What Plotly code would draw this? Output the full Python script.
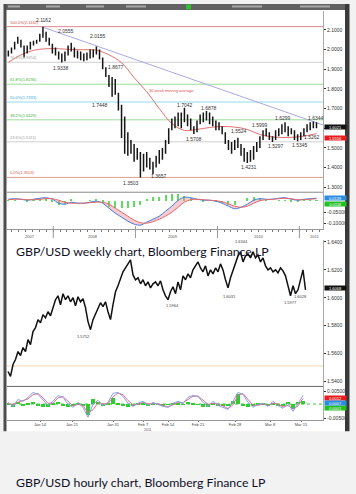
import plotly.graph_objects as go
import pandas as pd

W, H = 356, 494
def px(x): return x / W
def py(y): return 1 - y / H

# ---------------- weekly GBP/USD (bi-weekly sampled bars) ----------------
week_high = [1.995, 2.010, 2.040, 2.065, 2.050, 2.020, 2.020, 2.040, 2.045, 2.050,
             2.080, 2.1162, 2.090, 2.060, 2.030, 2.010, 1.990, 1.980, 1.990, 2.020,
             2.035, 2.010, 1.995, 1.990, 1.980, 1.985, 2.000, 2.000, 2.0155, 2.000,
             1.960, 1.910, 1.870, 1.860, 1.850, 1.780, 1.720, 1.660, 1.580, 1.540,
             1.520, 1.500, 1.480, 1.470, 1.480, 1.450, 1.430, 1.460, 1.490, 1.500,
             1.540, 1.600, 1.650, 1.660, 1.680, 1.680, 1.7042, 1.670, 1.650, 1.610,
             1.640, 1.670, 1.680, 1.6878, 1.680, 1.660, 1.640, 1.630, 1.610, 1.580,
             1.540, 1.530, 1.540, 1.5524, 1.520, 1.500, 1.480, 1.490, 1.510, 1.530,
             1.560, 1.590, 1.5999, 1.580, 1.560, 1.590, 1.600, 1.620, 1.6299, 1.610,
             1.600, 1.590, 1.570, 1.580, 1.600, 1.620, 1.630, 1.6344, 1.630]
week_low = [1.965, 1.980, 2.000, 2.030, 2.010, 1.960, 1.980, 2.000, 2.020, 2.030,
            2.040, 2.060, 2.040, 2.020, 1.980, 1.970, 1.950, 1.9338, 1.940, 1.970,
            1.990, 1.960, 1.955, 1.945, 1.940, 1.945, 1.955, 1.960, 1.975, 1.950,
            1.900, 1.860, 1.810, 1.760, 1.770, 1.690, 1.550, 1.470, 1.460, 1.470,
            1.430, 1.440, 1.3503, 1.380, 1.400, 1.390, 1.3657, 1.400, 1.420, 1.440,
            1.470, 1.520, 1.590, 1.600, 1.610, 1.600, 1.630, 1.610, 1.590, 1.5708,
            1.580, 1.620, 1.630, 1.640, 1.620, 1.610, 1.590, 1.590, 1.570, 1.520,
            1.490, 1.470, 1.490, 1.500, 1.460, 1.430, 1.4231, 1.430, 1.440, 1.480,
            1.500, 1.540, 1.560, 1.540, 1.5297, 1.540, 1.560, 1.570, 1.580, 1.560,
            1.570, 1.540, 1.5345, 1.540, 1.560, 1.580, 1.590, 1.600, 1.600]
week_dates = pd.date_range("2007-06-15", periods=len(week_high), freq="14D")

ma_values = [1.935, 1.973, 1.996, 2.004, 2.004, 2.000, 1.999, 1.997, 1.973, 1.933,
             1.857, 1.786, 1.700, 1.624, 1.589, 1.594, 1.604, 1.609, 1.606, 1.594,
             1.568, 1.556, 1.553, 1.556, 1.566, 1.573]
ma_dates = list(pd.date_range("2007-06-15", periods=25, freq="56D")) + [pd.Timestamp("2011-03-18")]

trend_dates = ["2007-11-09", "2011-04-16"]
trend_values = [2.1162, 1.6164]

fib_levels = [2.1162, 1.9354, 1.8236, 1.7333, 1.6429, 1.5311, 1.3503]
fib_text = ["100.0%(2.1162)", "76.4%(1.9354)", "61.8%(1.8236)", "50.0%(1.7333)",
            "38.2%(1.6429)", "23.6%(1.5311)", "0.0%(1.3503)"]
fib_colors = ["#d98c8c", "#cfcfcf", "#9ddc9d", "#8fdcf0", "#9ddc9d", "#cfcfcf", "#d9a08c"]
fib_text_colors = ["#c85050", "#a0a0a0", "#40b040", "#30a8d0", "#40b040", "#a0a0a0", "#c86040"]

week_labels = [("2.1162", "2007-11-18", 2.148), ("2.0555", "2008-02-28", 2.095),
               ("2.0155", "2008-07-16", 2.070), ("1.9338", "2008-02-06", 1.908),
               ("1.8677", "2008-10-07", 1.913), ("1.7448", "2008-07-29", 1.720),
               ("1.7042", "2009-08-09", 1.720), ("1.6878", "2009-11-24", 1.705),
               ("1.6299", "2010-10-20", 1.654), ("1.6344", "2011-03-16", 1.654),
               ("1.5999", "2010-07-10", 1.619), ("1.5524", "2010-04-07", 1.584),
               ("1.5708", "2009-09-18", 1.543), ("1.5262", "2011-02-27", 1.558),
               ("1.5297", "2010-09-19", 1.508), ("1.5345", "2011-01-05", 1.513),
               ("1.4231", "2010-05-22", 1.401), ("1.3657", "2009-04-14", 1.356),
               ("1.3503", "2008-12-10", 1.320)]
week_ticks = [1.3, 1.4, 1.5, 1.6, 1.7, 1.8, 1.9, 2.0, 2.1]

macd_line = [0.0091, 0.0114, 0.0091, 0.0045, 0.0091, 0.0136, 0.0159, 0.0091, -0.0091, -0.0136,
             -0.0045, -0.0091, -0.0091, -0.0045, 0.0, -0.0091, -0.0318, -0.0545, -0.0727, -0.0909,
             -0.1045, -0.1091, -0.0955, -0.0818, -0.0682, -0.0455, -0.0227, 0.0045, 0.0182, 0.0159,
             0.0091, 0.0045, 0.0045, 0.0, -0.0091, -0.0227, -0.0341, -0.0273, -0.0136, 0.0045,
             0.0114, 0.0091, 0.0091, 0.0136, 0.0159, 0.0091, 0.0045, 0.0091, 0.0114, 0.0136]
macd_signal = [0.0068, 0.0091, 0.0091, 0.0068, 0.0068, 0.0091, 0.0114, 0.0114, 0.0045, -0.0045,
               -0.0091, -0.0091, -0.0091, -0.0068, -0.0045, -0.0045, -0.0136, -0.0318, -0.0500, -0.0682,
               -0.0864, -0.0977, -0.1000, -0.0932, -0.0818, -0.0682, -0.0500, -0.0273, -0.0045, 0.0068,
               0.0091, 0.0068, 0.0045, 0.0023, -0.0023, -0.0114, -0.0227, -0.0273, -0.0227, -0.0091,
               0.0023, 0.0068, 0.0091, 0.0114, 0.0136, 0.0114, 0.0068, 0.0068, 0.0091, 0.0114]
macd_hist = [0.003, 0.003, 0.0, -0.003, 0.003, 0.007, 0.007, -0.003, -0.020, -0.014,
             0.007, 0.0, 0.0, 0.003, 0.007, -0.007, -0.027, -0.034, -0.034, -0.034,
             -0.027, -0.017, 0.007, 0.017, 0.020, 0.027, 0.030, 0.030, 0.025, 0.014,
             0.0, -0.003, 0.0, -0.003, -0.010, -0.017, -0.017, 0.0, 0.014, 0.020,
             0.014, 0.003, 0.0, 0.003, 0.003, -0.003, -0.003, 0.003, 0.003, 0.003]
macd_dates = pd.date_range("2007-06-15", periods=len(macd_line), freq="28D")

year_text = ["2007", "2008", "2009", "2010", "2011"]
year_mid = ["2007-09-20", "2008-06-28", "2009-06-16", "2010-07-07", "2011-03-08"]
year_starts = ["2008-01-01", "2009-01-01", "2010-01-01", "2011-01-01"]

# ---------------- hourly GBP/USD ----------------
hour_close = [1.5471, 1.5436, 1.5521, 1.5557, 1.5614, 1.5586, 1.5643, 1.5614, 1.5700, 1.5664,
              1.5757, 1.5786, 1.5843, 1.5821, 1.5879, 1.5857, 1.5900, 1.5871, 1.5929, 1.5986,
              1.6014, 1.5950, 1.6029, 1.5986, 1.6014, 1.5971, 1.6000, 1.5943, 1.6007, 1.5971,
              1.5993, 1.5929, 1.5829, 1.5771, 1.5843, 1.5886, 1.5929, 1.5964, 1.5936, 1.5971,
              1.5900, 1.5843, 1.5950, 1.6043, 1.6086, 1.6143, 1.6186, 1.6214, 1.6243, 1.6271,
              1.6164, 1.6129, 1.6143, 1.6100, 1.6129, 1.6086, 1.6114, 1.6071, 1.6100, 1.6114,
              1.6086, 1.6121, 1.6057, 1.6014, 1.5986, 1.6043, 1.6079, 1.6029, 1.6114, 1.6057,
              1.6157, 1.6129, 1.6171, 1.6143, 1.6200, 1.6229, 1.6257, 1.6214, 1.6186, 1.6229,
              1.6157, 1.6200, 1.6171, 1.6214, 1.6186, 1.6243, 1.6200, 1.6129, 1.6071, 1.6143,
              1.6200, 1.6257, 1.6300, 1.6329, 1.6257, 1.6300, 1.6314, 1.6286, 1.6329, 1.6286,
              1.6307, 1.6257, 1.6286, 1.6229, 1.6200, 1.6214, 1.6186, 1.6200, 1.6179, 1.6214,
              1.6193, 1.6157, 1.6086, 1.6014, 1.6086, 1.6029, 1.6057, 1.6129, 1.6200, 1.6057]
hour_x = list(range(len(hour_close)))

hour_labels = [("1.5752", 30, 1.5721), ("1.5964", 65.6, 1.5943), ("1.6031", 88.4, 1.6007),
               ("1.6344", 93.2, 1.6403), ("1.5977", 112.8, 1.5964), ("1.6028", 116.8, 1.6007)]
hour_ticks = [1.54, 1.56, 1.58, 1.60, 1.62, 1.64]
hour_level = 1.5511

osc_fast = [0.0009, -0.0006, 0.0020, 0.0013, 0.0028, 0.0046, 0.0039, 0.0017, -0.0002, 0.0013,
            0.0035, 0.0028, 0.0002, -0.0009, 0.0009, -0.0009, -0.0046, 0.0002, 0.0017, -0.0002,
            0.0009, 0.0043, 0.0046, 0.0031, 0.0006, -0.0006, 0.0006, 0.0013, -0.0002, 0.0009,
            0.0002, -0.0006, -0.0009, 0.0006, 0.0013, 0.0006, 0.0028, 0.0035, 0.0031, 0.0009,
            -0.0006, 0.0013, -0.0002, -0.0009, -0.0017, 0.0013, 0.0046, 0.0039, 0.0009, -0.0009,
            0.0002, 0.0006, -0.0006, 0.0013, -0.0002, -0.0013, 0.0006, -0.0024, 0.0006, 0.0035]
osc_slow = [0.0005, 0.0002, 0.0010, 0.0016, 0.0022, 0.0038, 0.0042, 0.0026, 0.0006, 0.0006,
            0.0026, 0.0031, 0.0012, -0.0004, 0.0002, -0.0002, -0.0030, -0.0018, 0.0008, 0.0004,
            0.0004, 0.0030, 0.0044, 0.0038, 0.0016, 0.0000, 0.0002, 0.0010, 0.0004, 0.0004,
            0.0004, -0.0002, -0.0008, 0.0000, 0.0010, 0.0008, 0.0020, 0.0032, 0.0033, 0.0018,
            0.0002, 0.0006, 0.0004, -0.0004, -0.0014, 0.0000, 0.0034, 0.0042, 0.0020, -0.0002,
            -0.0002, 0.0004, -0.0002, 0.0006, 0.0004, -0.0008, -0.0002, -0.0016, -0.0004, 0.0024]
osc_hist = [0.0004, -0.0008, 0.0010, -0.0003, 0.0006, 0.0008, -0.0003, -0.0009, -0.0008, 0.0007,
            0.0009, -0.0003, -0.0010, -0.0005, 0.0007, -0.0007, -0.0040, 0.0020, 0.0009, -0.0006,
            0.0005, 0.0025, 0.0006, -0.0007, -0.0010, -0.0006, 0.0004, 0.0003, -0.0006, 0.0005,
            -0.0002, -0.0004, -0.0001, 0.0006, 0.0003, -0.0002, 0.0008, 0.0003, -0.0002, -0.0009,
            -0.0008, 0.0007, -0.0006, -0.0005, -0.0003, 0.0013, 0.0040, -0.0003, -0.0011, -0.0007,
            0.0004, 0.0002, -0.0004, 0.0007, -0.0006, -0.0005, 0.0008, -0.0016, 0.0010, 0.0011]
osc_x = list(range(0, 2 * len(osc_fast), 2))

hour_tick_pos = [12.8, 25.6, 42, 54, 64, 76, 90.8, 104.8, 117.2]
hour_tick_text = ["Jan 14", "Jan 21", "Jan 31", "Feb 7", "Feb 14", "Feb 21", "Feb 28", "Mar 8", "Mar 15"]

captions = ["GBP/USD weekly chart, Bloomberg Finance LP", "GBP/USD hourly chart, Bloomberg Finance LP"]

# ---------------- figure ----------------
fig = go.Figure()
SK = "skip"

bx, by = [], []
for d, lo, hi in zip(week_dates, week_low, week_high):
    bx += [d, d, None]
    by += [lo, hi, None]
fig.add_trace(go.Scatter(x=trend_dates, y=trend_values, mode="lines",
                         line=dict(color="#a9a9e2", width=1), xaxis="x", yaxis="y", hoverinfo=SK))
fig.add_trace(go.Scatter(x=ma_dates, y=ma_values, mode="lines", line_shape="spline",
                         line=dict(color="#e07070", width=1), xaxis="x", yaxis="y", hoverinfo=SK))
fig.add_trace(go.Scatter(x=bx, y=by, mode="lines", line=dict(color="#151515", width=1.5),
                         xaxis="x", yaxis="y", hoverinfo=SK))

fig.add_trace(go.Bar(x=macd_dates, y=macd_hist, marker=dict(color="#5fdc5f", line_width=0),
                     width=9 * 86400000, xaxis="x2", yaxis="y2", hoverinfo=SK))
fig.add_trace(go.Scatter(x=macd_dates, y=macd_line, mode="lines", line_shape="spline",
                         line=dict(color="#3f7fe0", width=1), xaxis="x2", yaxis="y2", hoverinfo=SK))
fig.add_trace(go.Scatter(x=macd_dates, y=macd_signal, mode="lines", line_shape="spline",
                         line=dict(color="#e06a6a", width=1), fill="tonexty",
                         fillcolor="rgba(240,140,150,0.45)", xaxis="x2", yaxis="y2", hoverinfo=SK))

fig.add_trace(go.Scatter(x=hour_x, y=hour_close, mode="lines", line=dict(color="#111", width=1.5),
                         xaxis="x3", yaxis="y3", hoverinfo=SK))

fig.add_trace(go.Bar(x=osc_x, y=osc_hist, marker=dict(color="#2ecc2e", line_width=0), width=1.3,
                     xaxis="x4", yaxis="y4", hoverinfo=SK))
fig.add_trace(go.Scatter(x=osc_x, y=osc_slow, mode="lines", line=dict(color="#e07090", width=1),
                         xaxis="x4", yaxis="y4", hoverinfo=SK))
fig.add_trace(go.Scatter(x=osc_x, y=osc_fast, mode="lines", line=dict(color="#8aa0e8", width=1),
                         xaxis="x4", yaxis="y4", hoverinfo=SK))

tf = dict(family="Liberation Sans, Arial", size=5, color="#333")
base = dict(showgrid=False, zeroline=False)
# the 1.6000 weekly label sits under the live-price box in the reference
week_ticktext = ["" if abs(v - 1.6) < 1e-9 else f"{v:.4f}" for v in week_ticks]
fig.update_layout(
    width=W, height=H, margin=dict(l=0, r=0, t=0, b=0),
    paper_bgcolor="#f2f2f2", plot_bgcolor="rgba(0,0,0,0)", showlegend=False, bargap=0,
    xaxis=dict(type="date", domain=[px(7), px(323)], range=["2007-06-09", "2011-04-16"],
               anchor="y", showticklabels=False, ticks="", **base),
    yaxis=dict(domain=[py(192), py(10)], range=[1.275, 2.196], side="right", anchor="x",
               tickvals=week_ticks, ticktext=week_ticktext, ticks="outside",
               ticklen=2, tickcolor="#333", tickfont=tf, showline=True, linecolor="#aaa", **base),
    xaxis2=dict(type="date", matches="x", domain=[px(7), px(323)], anchor="y2", showticklabels=False,
                ticks="outside", ticklen=2, tickcolor="#777", dtick="M1", tick0="2007-07-01",
                showline=True, linecolor="#999", **base),
    yaxis2=dict(domain=[py(229), py(192)], range=[-0.127, 0.041], side="right", anchor="x2",
                tickvals=[-0.05, -0.1], ticktext=["-0.05000", "-0.10000"], ticks="outside",
                ticklen=2, tickcolor="#333", tickfont=tf, showline=True, linecolor="#aaa", **base),
    xaxis3=dict(domain=[px(7), px(323)], range=[-0.4, 126], anchor="y3", showticklabels=False,
                ticks="", **base),
    yaxis3=dict(domain=[py(387), py(240)], range=[1.5364, 1.6414], side="right", anchor="x3",
                tickvals=hour_ticks, ticktext=[f"{v:.4f}" for v in hour_ticks], ticks="outside",
                ticklen=2, tickcolor="#333", tickfont=tf, showline=True, linecolor="#aaa", **base),
    xaxis4=dict(matches="x3", domain=[px(7), px(323)], anchor="y4", tickvals=hour_tick_pos,
                ticktext=hour_tick_text, ticks="outside", ticklen=1, tickcolor="#777",
                ticklabelstandoff=-1,
                tickfont=dict(family="Liberation Sans, Arial", size=4, color="#444"),
                showline=True, linecolor="#999", **base),
    yaxis4=dict(domain=[py(421), py(387)], range=[-0.00574, 0.00685], side="right", anchor="x4",
                tickvals=[0.005, -0.005], ticktext=["0.00500", "-0.00500"], ticks="outside",
                ticklen=2, tickcolor="#333", tickfont=tf, showline=True, linecolor="#aaa", **base),
)

shapes = []
def prect(x0, y0, x1, y1, color, layer="below"):
    shapes.append(dict(type="rect", xref="paper", yref="paper", x0=px(x0), x1=px(x1),
                       y0=py(y1), y1=py(y0), fillcolor=color, line_width=0, layer=layer))
prect(6, 9, 345, 432, "white")
prect(5, 3, 349, 9, "#626262", "above")
for a, b in [(8, 20), (46, 60), (86, 104), (126, 146), (232, 262), (300, 330)]:
    prect(a, 4.5, b, 6.5, "#a8a8a8", "above")
prect(186, 3.5, 191, 8.5, "#2fc02f", "above")
prect(3.5, 3, 6.5, 432, "#4d4d4d", "above")
prect(345, 3, 349.5, 432, "#3a3a3a", "above")

for lvl, col in zip(fib_levels, fib_colors):
    shapes.append(dict(type="line", xref="x domain", yref="y", x0=0, x1=1, y0=lvl, y1=lvl,
                       line=dict(color=col, width=1), layer="below"))
shapes.append(dict(type="line", xref="x3 domain", yref="y3", x0=0, x1=1, y0=hour_level, y1=hour_level,
                   line=dict(color="#f2d6b3", width=1), layer="below"))
shapes.append(dict(type="line", xref="x4 domain", yref="y4", x0=0, x1=1, y0=0.0003, y1=0.0003,
                   line=dict(color="#33cc33", width=1, dash="dot"), layer="below"))
shapes.append(dict(type="line", xref="paper", yref="paper", x0=px(7), x1=px(323), y0=py(192), y1=py(192),
                   line=dict(color="#888", width=1)))
shapes.append(dict(type="line", xref="paper", yref="paper", x0=px(7), x1=px(323), y0=py(387), y1=py(387),
                   line=dict(color="#666", width=1)))
for d in year_starts:
    shapes.append(dict(type="line", xref="x2", yref="paper", x0=d, x1=d, y0=py(238), y1=py(226),
                       line=dict(color="#999", width=1)))
fig.update_layout(shapes=shapes)

ann = []
for t, lvl, c in zip(fib_text, fib_levels, fib_text_colors):
    ann.append(dict(text=t, xref="paper", yref="y", x=px(8), y=lvl, xanchor="left", yanchor="bottom",
                    showarrow=False, font=dict(family="Liberation Sans, Arial", size=4, color=c)))
for t, d, v in week_labels:
    ann.append(dict(text=t, xref="x", yref="y", x=d, y=v, showarrow=False,
                    font=dict(family="Liberation Sans, Arial", size=5, color="#333")))
ann.append(dict(text="30 week moving average", xref="x", yref="y", x="2009-02-20", y=1.791,
                xanchor="left", showarrow=False, font=dict(family="Liberation Sans, Arial", size=4, color="#e05050")))
for t, d in zip(year_text, year_mid):
    ann.append(dict(text=t, xref="x2", yref="paper", x=d, y=py(236), showarrow=False,
                    font=dict(family="Liberation Sans, Arial", size=4, color="#555")))
for t, x, v in hour_labels:
    ann.append(dict(text=t, xref="x3", yref="y3", x=x, y=v, showarrow=False,
                    font=dict(family="Liberation Sans, Arial", size=4, color="#444")))
ann.append(dict(text="2011", xref="x4", yref="paper", x=56, y=py(431), yanchor="middle", showarrow=False,
                font=dict(family="Liberation Sans, Arial", size=3.5, color="#555")))

def box(text, yref, y, bg, fg="white"):
    ann.append(dict(text=text, xref="paper", yref=yref, x=px(324), y=y, xanchor="left", showarrow=False,
                    bgcolor=bg, width=21, height=4, borderpad=0,
                    font=dict(family="Liberation Sans, Arial", size=4, color=fg)))
box("1.6021", "y", 1.604, "#111")
box("1.5556", "y", 1.553, "#e81c1c")
box("0.0118", "y2", -0.011, "#22c022")
box("0.0139", "y2", 0.0139, "#2a8de0")
box("1.6068", "y3", 1.6071, "#111")
box("0.0001", "y4", -0.0013, "#22c022")
box("0.0012", "y4", 0.0024, "#e81c1c")
box("0.0007", "y4", 0.0006, "#2a8de0")

for t, yy in zip(captions, [252, 483]):
    ann.append(dict(text=t, xref="paper", yref="paper", x=px(14), y=py(yy), xanchor="left",
                    yanchor="middle", showarrow=False,
                    font=dict(family="Lato", size=12.3, color="#101028")))
fig.update_layout(annotations=ann)

fig.write_html("out.html", config={"displayModeBar": False},
               post_script="document.body.style.margin='0';document.body.style.overflow='hidden';")
